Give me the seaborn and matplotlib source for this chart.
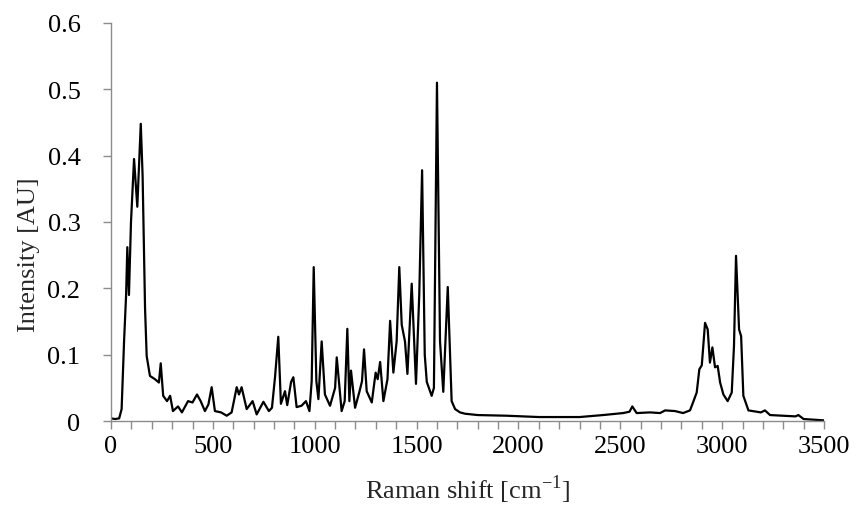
"""
Raman spectrum, redrawn with seaborn.
"""

import pandas as pd
import matplotlib
matplotlib.use("Agg")
import matplotlib.pyplot as plt
from matplotlib.ticker import MultipleLocator, FuncFormatter
import seaborn as sns

# Spectrum
raman_shift = [
    0, 20, 40, 52, 64, 74, 80, 88, 98, 113, 129, 146, 155, 167, 175, 191, 216,
    235, 244, 256, 275, 290, 304, 329, 348, 378, 400, 422, 440, 461, 478, 494,
    510, 540, 568, 592, 617, 628, 641, 666, 695, 715, 748, 775, 790, 805, 821,
    834, 854, 865, 884, 895, 911, 935, 957, 974, 985, 995, 1008, 1018, 1034,
    1050, 1075, 1100, 1108, 1132, 1147, 1160, 1170, 1178, 1198, 1220, 1232,
    1242, 1255, 1280, 1299, 1309, 1321, 1337, 1357, 1370, 1386, 1402, 1415,
    1427, 1443, 1455, 1476, 1497, 1513, 1527, 1540, 1550, 1574, 1585, 1600,
    1615, 1631, 1653, 1672, 1689, 1713, 1738, 1800, 1942, 2100, 2188, 2300,
    2415, 2514, 2545, 2559, 2580, 2646, 2695, 2720, 2769, 2808, 2842, 2857,
    2875, 2888, 2900, 2916, 2929, 2940, 2952, 2965, 2978, 2990, 3006, 3027,
    3047, 3058, 3068, 3083, 3093, 3104, 3129, 3190, 3210, 3235, 3300, 3360,
    3374, 3400, 3450, 3500,
]
intensity = [
    0.004, 0.003, 0.004, 0.018, 0.12, 0.19, 0.262, 0.19, 0.30, 0.395, 0.323,
    0.448, 0.37, 0.17, 0.098, 0.068, 0.063, 0.058, 0.087, 0.038, 0.03, 0.038,
    0.015, 0.022, 0.013, 0.03, 0.028, 0.04, 0.03, 0.015, 0.025, 0.051, 0.015,
    0.013, 0.008, 0.013, 0.051, 0.04, 0.051, 0.018, 0.03, 0.01, 0.029, 0.015,
    0.02, 0.066, 0.127, 0.026, 0.045, 0.024, 0.059, 0.066, 0.021, 0.023, 0.03,
    0.015, 0.06, 0.232, 0.06, 0.033, 0.12, 0.04, 0.023, 0.05, 0.096, 0.015,
    0.03, 0.139, 0.03, 0.076, 0.02, 0.045, 0.06, 0.108, 0.045, 0.028, 0.073,
    0.063, 0.089, 0.03, 0.063, 0.151, 0.073, 0.12, 0.232, 0.145, 0.12, 0.071,
    0.207, 0.056, 0.19, 0.378, 0.1, 0.059, 0.038, 0.05, 0.51, 0.12, 0.044,
    0.202, 0.03, 0.018, 0.013, 0.011, 0.009, 0.008, 0.006, 0.006, 0.006,
    0.009, 0.012, 0.014, 0.022, 0.012, 0.013, 0.012, 0.016, 0.015, 0.012,
    0.016, 0.028, 0.043, 0.078, 0.084, 0.148, 0.138, 0.088, 0.111, 0.081,
    0.083, 0.058, 0.04, 0.03, 0.043, 0.113, 0.249, 0.138, 0.128, 0.038, 0.016,
    0.013, 0.016, 0.009, 0.008, 0.007, 0.009, 0.003, 0.002, 0.001,
]
x_ticks = [0, 500, 1000, 1500, 2000, 2500, 3000, 3500]
y_ticks = [0, 0.1, 0.2, 0.3, 0.4, 0.5, 0.6]

df = pd.DataFrame({"shift": raman_shift, "intensity": intensity})

sns.set_style("ticks")
plt.rcParams["font.family"] = ["Liberation Serif", "DejaVu Serif"]
plt.rcParams["mathtext.fontset"] = "custom"
plt.rcParams["mathtext.rm"] = "Liberation Serif"

fig = plt.figure(figsize=(8.58, 5.10), dpi=100)
ax = fig.add_axes([0.1294, 0.1725, 0.831, 0.7805])

sns.lineplot(data=df, x="shift", y="intensity", color="black",
             linewidth=1.6, ax=ax)

ax.set_xlim(0, 3500)
ax.set_ylim(0, 0.6)
ax.set_xticks(x_ticks)
ax.set_yticks(y_ticks)
ax.xaxis.set_minor_locator(MultipleLocator(100))
ax.yaxis.set_major_formatter(FuncFormatter(lambda v, p: "0" if v == 0 else f"{v:.1f}"))

gray = "#8c8c8c"
for side in ["top", "right"]:
    ax.spines[side].set_visible(False)
for side in ["left", "bottom"]:
    ax.spines[side].set_color(gray)
    ax.spines[side].set_linewidth(1.0)
ax.tick_params(axis="both", which="both", direction="out", color=gray,
               length=6, width=1.0, labelsize=19, labelcolor="black")
ax.tick_params(axis="y", pad=16)
ax.tick_params(axis="x", pad=4)

ax.set_xlabel("Raman shift [cm$^{\\mathregular{-1}}$]", fontsize=19)
ax.set_ylabel("Intensity [AU]", fontsize=19)
ax.xaxis.set_label_coords(0.5, -0.13)
ax.yaxis.set_label_coords(-0.1, 0.42)

fig.savefig("out.png", dpi=100)
